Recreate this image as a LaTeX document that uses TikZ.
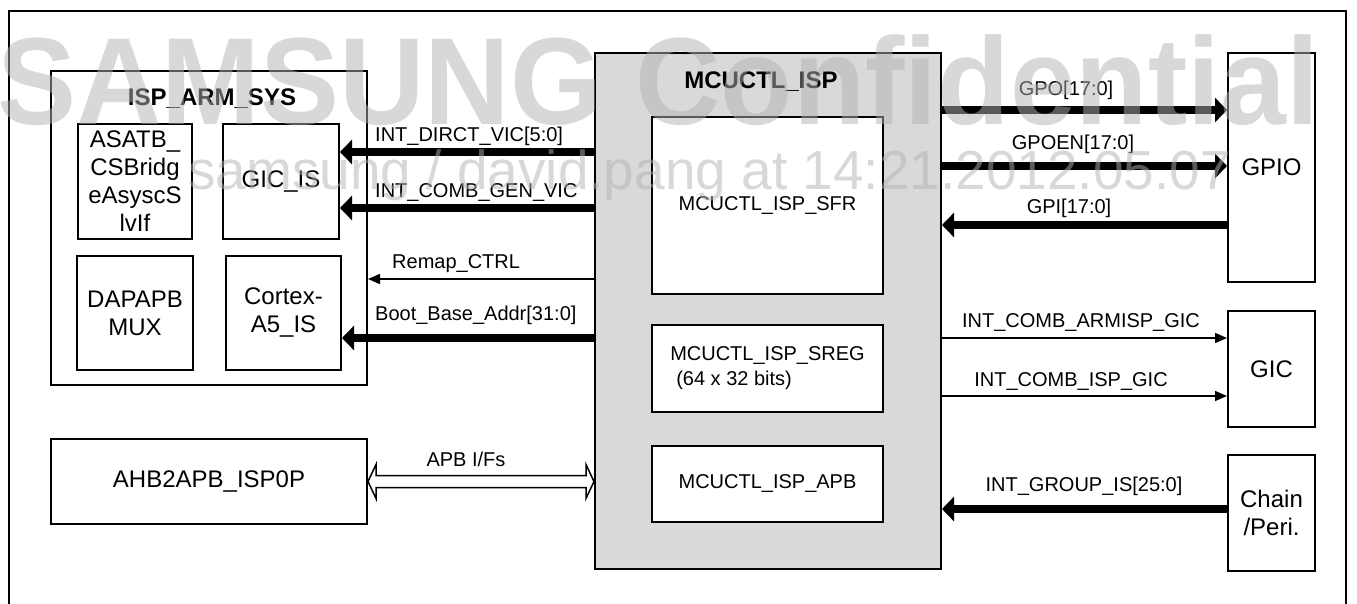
\documentclass[tikz,border=0pt]{standalone}
\usepackage{fontspec}
\setmainfont{Liberation Sans}
\usetikzlibrary{arrows.meta,positioning,calc}

\begin{document}
\begin{tikzpicture}[
    x=1pt, y=1pt,
    node distance=30pt and 30pt,
    blk/.style={rectangle, draw, line width=2pt, fill=white, inner sep=0pt, align=center, font=\fontsize{24}{28}\selectfont},
    sub/.style={rectangle, draw, line width=2pt, fill=white, inner sep=0pt, align=center, font=\fontsize{20}{25}\selectfont},
    hdr/.style={inner sep=0pt, anchor=base, font=\fontsize{24}{28}\selectfont\bfseries},
    lbl/.style={inner sep=0pt, font=\fontsize{20}{24}\selectfont},
    bus/.style={line width=8pt, -{Triangle[length=12pt, width=24pt]}},
    sig/.style={line width=1.5pt, -{Triangle[length=12pt, width=10pt]}},
    wmark/.style={inner sep=0pt, anchor=base west, text=black!30, text opacity=0.5}
]
    \useasboundingbox (0,0) rectangle (1357,-604);

    % Outer frame
    \draw[line width=2.5pt] (9,-608) -- (9,-11) -- (1346,-11) -- (1346,-608);

    % ISP_ARM_SYS
    \node[blk, anchor=north west, minimum width=316pt, minimum height=314pt] (arm) at (50,-70) {};
    \node[hdr] (armt) at (212,-106) {ISP\_ARM\_SYS};
    \node[blk, anchor=north west, minimum width=114pt, minimum height=115pt] (asatb) at (77,-123) {ASATB\_\\CSBridg\\eAsyscS\\lvIf};
    \node[blk, right=29pt of asatb, minimum width=116pt, minimum height=115pt] (gicis) {GIC\_IS};
    \node[blk, below=15pt of asatb, minimum width=116pt, minimum height=114pt] (dap) {DAPAPB\\MUX};
    \node[blk, right=31pt of dap, minimum width=115pt, minimum height=114pt] (cortex) {Cortex-\\A5\_IS};

    % AHB bridge
    \node[blk, below=52pt of arm, minimum width=316pt, minimum height=85pt] (ahb) {AHB2APB\_ISP0P};

    % MCUCTL_ISP
    \node[blk, fill=black!15, anchor=north west, minimum width=346pt, minimum height=516pt] (mcu) at (594,-52) {};
    \node[hdr] (mcut) at (761,-89) {MCUCTL\_ISP};
    \node[sub, anchor=north west, minimum width=231pt, minimum height=177pt] (sfr) at (651,-116) {MCUCTL\_ISP\_SFR};
    \node[sub, below=29pt of sfr, minimum width=231pt, minimum height=87pt, align=left] (sreg) {MCUCTL\_ISP\_SREG\\\hspace*{6pt}(64 x 32 bits)};
    \node[sub, below=32pt of sreg, minimum width=231pt, minimum height=76pt] (apb) {MCUCTL\_ISP\_APB};

    % Right side blocks
    \node[blk, anchor=north west, minimum width=87pt, minimum height=229pt] (gpio) at (1227,-52) {GPIO};
    \node[blk, below=27pt of gpio, minimum width=87pt, minimum height=116pt] (gic) {GIC};
    \node[blk, below=26pt of gic, minimum width=87pt, minimum height=116pt] (chain) {Chain\\/Peri.};

    % Signal levels
    \coordinate (vdirct) at (0,-152);
    \coordinate (vcomb) at (0,-208);
    \coordinate (vremap) at (0,-279);
    \coordinate (vboot) at (0,-338);
    \coordinate (vgpo) at (0,-110);
    \coordinate (vgpoen) at (0,-166);
    \coordinate (vgpi) at (0,-225);
    \coordinate (varm) at (0,-338);
    \coordinate (visp) at (0,-396);
    \coordinate (vgrp) at (0,-509);

    % Connections
    \draw[bus] (mcu.west |- vdirct) -- (gicis.east |- vdirct);
    \draw[bus] (mcu.west |- vcomb) -- (gicis.east |- vcomb);
    \draw[sig] (mcu.west |- vremap) -- (arm.east |- vremap);
    \draw[bus] (mcu.west |- vboot) -- (cortex.east |- vboot);
    \draw[bus] (mcu.east |- vgpo) -- (gpio.west |- vgpo);
    \draw[bus] (mcu.east |- vgpoen) -- (gpio.west |- vgpoen);
    \draw[bus] (gpio.west |- vgpi) -- (mcu.east |- vgpi);
    \draw[sig] (mcu.east |- varm) -- (gic.west |- varm);
    \draw[sig] (mcu.east |- visp) -- (gic.west |- visp);
    \draw[bus] (chain.west |- vgrp) -- (mcu.east |- vgrp);
    \draw[line width=1.5pt, fill=white] (ahb.east) -- ++(8,17) -- ++(0,-11)
        -- ($(mcu.west |- ahb.east)+(-8,6)$) -- ++(0,11) -- (mcu.west |- ahb.east)
        -- ++(-8,-17) -- ++(0,11) -- ($(ahb.east)+(8,-6)$) -- ++(0,-11) -- cycle;

    % Labels
    \node[lbl, anchor=base west] (ldirct) at (375,-142) {INT\_DIRCT\_VIC[5:0]};
    \node[lbl, anchor=base west] (lcomb) at (375,-198) {INT\_COMB\_GEN\_VIC};
    \node[lbl, anchor=base west] (lremap) at (392,-268) {Remap\_CTRL};
    \node[lbl, anchor=base west] (lboot) at (375,-320) {Boot\_Base\_Addr[31:0]};
    \node[lbl, anchor=base] (lapb) at (466,-466) {APB I/Fs};
    \node[lbl, anchor=base] (lgpo) at (1066,-96) {GPO[17:0]};
    \node[lbl, anchor=base] (lgpoen) at (1073,-150) {GPOEN[17:0]};
    \node[lbl, anchor=base] (lgpi) at (1069,-214) {GPI[17:0]};
    \node[lbl, anchor=base] (larm) at (1081,-327) {INT\_COMB\_ARMISP\_GIC};
    \node[lbl, anchor=base] (lisp) at (1071,-386) {INT\_COMB\_ISP\_GIC};
    \node[lbl, anchor=base] (lgrp) at (1084,-491) {INT\_GROUP\_IS[25:0]};

    % Watermark
    \node[wmark, xscale=0.955, transform shape, font=\fontsize{124}{124}\selectfont\bfseries] (wmtop) at (-3,-125) {SAMSUNG Confidential};
    \node[wmark, font=\fontsize{55}{55}\selectfont] (wmuser) at (188,-190) {samsung / david.pang at 14:21.2012.05.07};
\end{tikzpicture}
\end{document}
